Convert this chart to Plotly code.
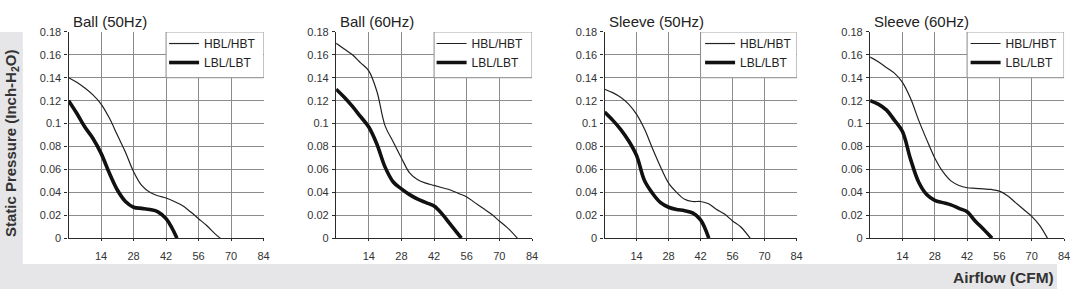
import plotly.graph_objects as go

# ---------------- data ----------------
titles = ["Ball (50Hz)", "Ball (60Hz)", "Sleeve (50Hz)", "Sleeve (60Hz)"]
series_names = ["HBL/HBT", "LBL/LBT"]

ball50_hbl_x = [0, 3.5, 7, 10.5, 14, 17.5, 21, 24.5, 28, 31.5, 35, 38.5, 42, 45.5, 49, 52.5, 56, 59.5, 63, 65.3]
ball50_hbl_y = [0.14, 0.136, 0.131, 0.125, 0.117, 0.105, 0.09, 0.075, 0.058, 0.046, 0.04, 0.037, 0.035, 0.032, 0.0285, 0.023, 0.017, 0.011, 0.004, 0]
ball50_lbl_x = [0, 3.5, 7, 10.5, 14, 17.5, 21, 24.5, 28, 31.5, 35, 38.5, 42, 44.5, 46.7]
ball50_lbl_y = [0.12, 0.109, 0.097, 0.087, 0.074, 0.057, 0.042, 0.032, 0.027, 0.026, 0.025, 0.023, 0.017, 0.009, 0]

ball60_hbl_x = [0, 3.5, 7, 10.5, 14, 17.5, 21, 24.5, 28, 31.5, 35, 38.5, 42, 45.5, 49, 52.5, 56, 59.5, 63, 66.5, 70, 73.5, 77.7]
ball60_hbl_y = [0.17, 0.165, 0.16, 0.153, 0.146, 0.128, 0.098, 0.084, 0.07, 0.057, 0.051, 0.048, 0.046, 0.044, 0.042, 0.039, 0.036, 0.031, 0.026, 0.021, 0.015, 0.009, 0]
ball60_lbl_x = [0, 3.5, 7, 10.5, 14, 17.5, 21, 24.5, 28, 31.5, 35, 38.5, 42, 45.5, 49, 53.7]
ball60_lbl_y = [0.13, 0.123, 0.115, 0.106, 0.097, 0.082, 0.062, 0.049, 0.043, 0.038, 0.034, 0.031, 0.028, 0.021, 0.012, 0]

sleeve50_hbl_x = [0, 3.5, 7, 10.5, 14, 17.5, 21, 24.5, 28, 31.5, 35, 38.5, 42, 45.5, 49, 52.5, 56, 59.5, 63.7]
sleeve50_hbl_y = [0.13, 0.127, 0.123, 0.117, 0.108, 0.095, 0.078, 0.062, 0.048, 0.04, 0.034, 0.032, 0.032, 0.03, 0.025, 0.021, 0.015, 0.01, 0]
sleeve50_lbl_x = [0, 3.5, 7, 10.5, 14, 17.5, 21, 24.5, 28, 31.5, 35, 38.5, 42, 45.6]
sleeve50_lbl_y = [0.11, 0.103, 0.095, 0.085, 0.072, 0.05, 0.039, 0.031, 0.027, 0.025, 0.024, 0.022, 0.016, 0]

sleeve60_hbl_x = [0, 3.5, 7, 10.5, 14, 17.5, 21, 24.5, 28, 31.5, 35, 38.5, 42, 45.5, 49, 52.5, 56, 59.5, 63, 66.5, 70, 73.5, 76.8]
sleeve60_hbl_y = [0.158, 0.154, 0.149, 0.144, 0.136, 0.122, 0.103, 0.086, 0.07, 0.058, 0.05, 0.046, 0.044, 0.0435, 0.043, 0.0425, 0.041, 0.037, 0.031, 0.025, 0.019, 0.011, 0]
sleeve60_lbl_x = [0, 3.5, 7, 10.5, 14, 17.5, 21, 24.5, 28, 31.5, 35, 38.5, 42, 45.5, 49, 52.8]
sleeve60_lbl_y = [0.12, 0.117, 0.112, 0.103, 0.093, 0.069, 0.049, 0.038, 0.033, 0.031, 0.029, 0.026, 0.023, 0.015, 0.008, 0]

x_tickvals = [14, 28, 42, 56, 70, 84]
x_ticktext = ["14", "28", "42", "56", "70", "84"]
y_tickvals = [0, 0.02, 0.04, 0.06, 0.08, 0.1, 0.12, 0.14, 0.16, 0.18]
y_ticktext = ["0", "0.02", "0.04", "0.06", "0.08", "0.1", "0.12", "0.14", "0.16", "0.18"]

panels = [
    (ball50_hbl_x, ball50_hbl_y, ball50_lbl_x, ball50_lbl_y),
    (ball60_hbl_x, ball60_hbl_y, ball60_lbl_x, ball60_lbl_y),
    (sleeve50_hbl_x, sleeve50_hbl_y, sleeve50_lbl_x, sleeve50_lbl_y),
    (sleeve60_hbl_x, sleeve60_hbl_y, sleeve60_lbl_x, sleeve60_lbl_y),
]

# ---------------- layout geometry ----------------
W, H = 1078, 295
x_domains_px = [(69, 265), (338, 535), (608, 801), (875, 1070)]
y_domain_px = (27, 242)  # top, bottom

FONT = "Liberation Sans, Arial, sans-serif"
GRID = "#8c8c8c"
AXIS = "#2a2a2a"
BAND = "#e6e6e8"

fig = go.Figure()
layout = dict(
    width=W, height=H,
    margin=dict(l=0, r=0, t=0, b=0),
    paper_bgcolor="white", plot_bgcolor="white",
    font=dict(family=FONT, color="#222222", size=11),
    showlegend=True,
)
shapes = []
annotations = []

ydom = [1 - y_domain_px[1] / H, 1 - y_domain_px[0] / H]

for i, (hx, hy, lx, ly) in enumerate(panels):
    n = i + 1
    xa = "xaxis" if n == 1 else f"xaxis{n}"
    ya = "yaxis" if n == 1 else f"yaxis{n}"
    xr = "x" if n == 1 else f"x{n}"
    yr = "y" if n == 1 else f"y{n}"
    lg = "legend" if n == 1 else f"legend{n}"
    xd = [x_domains_px[i][0] / W, x_domains_px[i][1] / W]

    fig.add_trace(go.Scatter(x=hx, y=hy, mode="lines", name=series_names[0],
                             line=dict(color="#222222", width=1.2, shape="spline", smoothing=1.0),
                             xaxis=xr, yaxis=yr, legend=lg, hoverinfo="skip"))
    fig.add_trace(go.Scatter(x=lx, y=ly, mode="lines", name=series_names[1],
                             line=dict(color="#111111", width=3.6, shape="spline", smoothing=1.0),
                             xaxis=xr, yaxis=yr, legend=lg, hoverinfo="skip"))

    layout[xa] = dict(domain=xd, range=[0, 84], anchor=yr,
                      tickvals=x_tickvals, ticktext=x_ticktext,
                      showgrid=True, gridcolor=GRID, gridwidth=1,
                      showline=True, linecolor=AXIS, linewidth=1.4,
                      ticks="outside", ticklen=2, tickcolor=AXIS,
                      tickfont=dict(family=FONT, size=11, color="#333333"),
                      ticklabelstandoff=5,
                      zeroline=False, fixedrange=True)
    layout[ya] = dict(domain=ydom, range=[0, 0.18], anchor=xr,
                      tickvals=y_tickvals, ticktext=y_ticktext,
                      showgrid=True, gridcolor=GRID, gridwidth=1,
                      showline=True, linecolor=AXIS, linewidth=1.4,
                      ticks="outside", ticklen=3, tickcolor=AXIS,
                      tickfont=dict(family=FONT, size=11, color="#333333"),
                      ticklabelstandoff=1,
                      zeroline=False, fixedrange=True)

    # white legend box covering the grid
    shapes.append(dict(type="rect", xref=xr, yref=yr, x0=42, x1=84, y0=0.14, y1=0.18,
                       fillcolor="white", line=dict(color=GRID, width=1), layer="between"))

    layout[lg] = dict(x=(x_domains_px[i][0] + 96) / W, xanchor="left",
                      y=1 - 24 / H, yanchor="top",
                      bgcolor="rgba(0,0,0,0)", borderwidth=0,
                      font=dict(family=FONT, size=12, color="#222222"),
                      tracegroupgap=0, itemclick=False, itemdoubleclick=False)

    annotations.append(dict(text=titles[i], xref=f"{xr} domain", yref="paper",
                            x=0.01, y=1 - 16 / H, xanchor="left", yanchor="middle",
                            showarrow=False, font=dict(family=FONT, size=15, color="#222222")))

# background bands
shapes.append(dict(type="rect", xref="paper", yref="paper", x0=0, x1=23 / W, y0=0, y1=1 - 27 / H,
                   fillcolor=BAND, line=dict(width=0), layer="below"))
shapes.append(dict(type="rect", xref="paper", yref="paper", x0=0, x1=1063 / W, y0=0, y1=1 - 269 / H,
                   fillcolor=BAND, line=dict(width=0), layer="below"))

annotations.append(dict(text="<b>Static Pressure (Inch-H<sub>2</sub>O)</b>", xref="paper", yref="paper",
                        x=11 / W, y=1 - 143 / H, xanchor="center", yanchor="middle", textangle=-90,
                        showarrow=False, font=dict(family=FONT, size=15, color="#333333")))
annotations.append(dict(text="<b>Airflow (CFM)</b>", xref="paper", yref="paper",
                        x=1062 / W, y=1 - 283 / H, xanchor="right", yanchor="middle",
                        showarrow=False, font=dict(family=FONT, size=15.5, color="#333333")))

layout["shapes"] = shapes
layout["annotations"] = annotations
fig.update_layout(**layout)

fig.write_html("out.html", config={"displayModeBar": False})
